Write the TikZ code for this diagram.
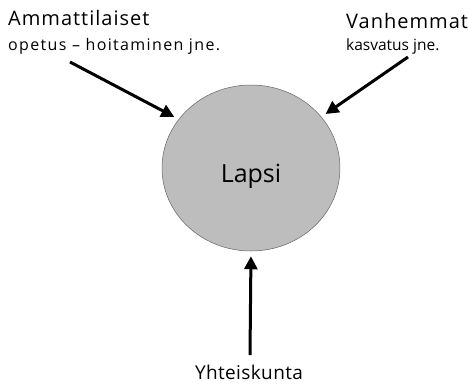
\documentclass[tikz,border=0pt]{standalone}
\usepackage{fontspec}
\setmainfont{Open Sans}
\usetikzlibrary{arrows.meta,shapes.geometric}

\begin{document}
\begin{tikzpicture}[x=1pt,y=-1pt]
                \tikzstyle{every node}+=[inner sep=0pt]
                \tikzstyle{bigtext}=[anchor=base west,font=\fontsize{20}{22}\selectfont\addfontfeatures{LetterSpace=5}]
                \tikzstyle{push}=[line width=3pt,-{Triangle[length=13pt,width=13pt]},shorten >=5pt]
                \useasboundingbox (0,0) rectangle (468,384);
                \node [ellipse,draw=black!60,line width=0.5pt,fill=black!26,minimum width=178pt,minimum height=166pt] (lapsi) at (251,168) {};
                \node [anchor=base,font=\fontsize{25}{27}\selectfont] (lapsitext) at (251,182) {Lapsi};
                \node [bigtext] (amm) at (8,25) {Ammattilaiset};
                \node [anchor=base west,font=\fontsize{16}{18}\selectfont\addfontfeatures{LetterSpace=8.5}] (ammsub) at (8,50) {opetus -- hoitaminen jne.};
                \node [bigtext] (van) at (346,28) {Vanhemmat};
                \node [anchor=base west,font=\fontsize{15.5}{17}\selectfont] (vansub) at (346,50) {kasvatus jne.};
                \node [anchor=base,text depth=0pt,font=\fontsize{19}{21}\selectfont\addfontfeatures{LetterSpace=2}] (yht) at (249,379) {Yhteiskunta};
                \coordinate (ammtail) at (70,62);
                \coordinate (vantail) at (408,57);
                \coordinate (yhttail) at (250,355);
                \draw [push] (ammtail) -- (lapsi.146);
                \draw [push] (vantail) -- (lapsi.36);
                \draw [push] (yhttail) -- (lapsi.south);
            \end{tikzpicture}
\end{document}
